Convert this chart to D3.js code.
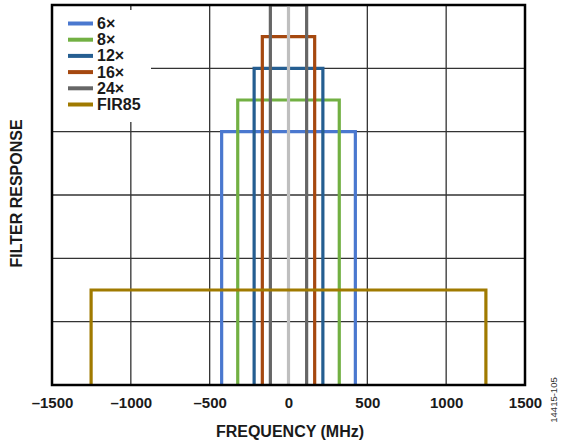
<!DOCTYPE html>
<html><head><meta charset="utf-8">
<script src="https://cdn.jsdelivr.net/npm/d3@7"></script>
<style>body{margin:0;background:#fff}svg{display:block;font-family:"Liberation Sans",Arial,sans-serif}</style>
</head><body>
<svg id="c" width="561" height="442"></svg>
<script>
// Data
const seriesNames = ["6×","8×","12×","16×","24×","48×","FIR85"];
const halfBandwidth = [424, 322, 218, 166, 115, 0, 1252];   // MHz
const responseLevel = [4, 4.5, 5, 5.5, 6, 6, 1.5];        // relative units (0–6)
const seriesColors = ["#4A78CF","#72B043","#255E91","#A5480F","#666666","#BFBFBF","#A07A00"];
const inLegend = [true,true,true,true,true,false,true];
const xTicks = [-1500,-1000,-500,0,500,1000,1500];
const yGrid = [0,1,2,3,4,5,6];

const svg = d3.select("#c");
const L=52, R=525, T=5, B=385;
const x = d3.scaleLinear().domain([-1500,1500]).range([L,R]);
const y = d3.scaleLinear().domain([0,6]).range([B,T]);

// gridlines
svg.append("g").selectAll("line.v").data(xTicks).join("line")
  .attr("x1",d=>x(d)).attr("x2",d=>x(d)).attr("y1",T).attr("y2",B)
  .attr("stroke","#333").attr("stroke-width",1.3);
svg.append("g").selectAll("line.h").data(yGrid).join("line")
  .attr("x1",L).attr("x2",R).attr("y1",d=>y(d)).attr("y2",d=>y(d))
  .attr("stroke","#333").attr("stroke-width",1.3);

// legend background (covers grid)
svg.append("rect").attr("x",L+1).attr("y",10).attr("width",98).attr("height",112).attr("fill","#fff");

// filter shapes
const data = seriesNames.map((n,i)=>({n,hw:halfBandwidth[i],lv:responseLevel[i],c:seriesColors[i]}));
svg.append("clipPath").attr("id","pc").append("rect").attr("x",L).attr("y",T).attr("width",R-L).attr("height",B-T);
svg.append("g").attr("clip-path","url(#pc)").selectAll("path").data(data).join("path")
  .attr("d",d=>d.hw===0 ? `M${x(0)},${y(0)}V${y(d.lv)}` :
     `M${x(-d.hw)},${y(0)}V${y(d.lv)}H${x(d.hw)}V${y(0)}`)
  .attr("fill","none").attr("stroke",d=>d.c).attr("stroke-width",3.2);

// border
svg.append("rect").attr("x",L).attr("y",T).attr("width",R-L).attr("height",B-T)
  .attr("fill","none").attr("stroke","#000").attr("stroke-width",2.5);

// x axis labels
const xa = d3.axisBottom(x).tickValues(xTicks).tickSize(0).tickPadding(0)
  .tickFormat(d=>d<0?"–"+Math.abs(d):String(d));
const ag = svg.append("g").attr("transform",`translate(0,${B})`).call(xa);
ag.select(".domain").remove();
ag.selectAll("text").attr("dy",null)
  .attr("y",23).attr("font-size",15).attr("font-weight","bold").attr("fill","#1a1a1a")
  .attr("font-family","'Liberation Sans',Arial,sans-serif");

svg.append("text").attr("x",290).attr("y",437).attr("text-anchor","middle")
  .attr("font-size",16).attr("font-weight","bold").attr("fill","#1a1a1a").text("FREQUENCY (MHz)");
svg.append("text").attr("transform","translate(21.5,193.5) rotate(-90)").attr("text-anchor","middle")
  .attr("font-size",16).attr("font-weight","bold").attr("fill","#1a1a1a").text("FILTER RESPONSE");
svg.append("text").attr("transform","translate(557,400) rotate(-90)").attr("text-anchor","middle")
  .attr("font-size",9.5).attr("fill","#333").text("14415-105");

// legend
const leg = data.filter((d,i)=>inLegend[i]);
const lg = svg.append("g").selectAll("g").data(leg).join("g")
  .attr("transform",(d,i)=>`translate(0,${29+i*16.2})`);
lg.append("line").attr("x1",68).attr("x2",93).attr("y1",-5.5).attr("y2",-5.5)
  .attr("stroke",d=>d.c).attr("stroke-width",4);
lg.append("text").attr("x",97).attr("y",0).attr("font-size",16).attr("font-weight","bold")
  .attr("fill","#1a1a1a").text(d=>d.n);
</script>
</body></html>
